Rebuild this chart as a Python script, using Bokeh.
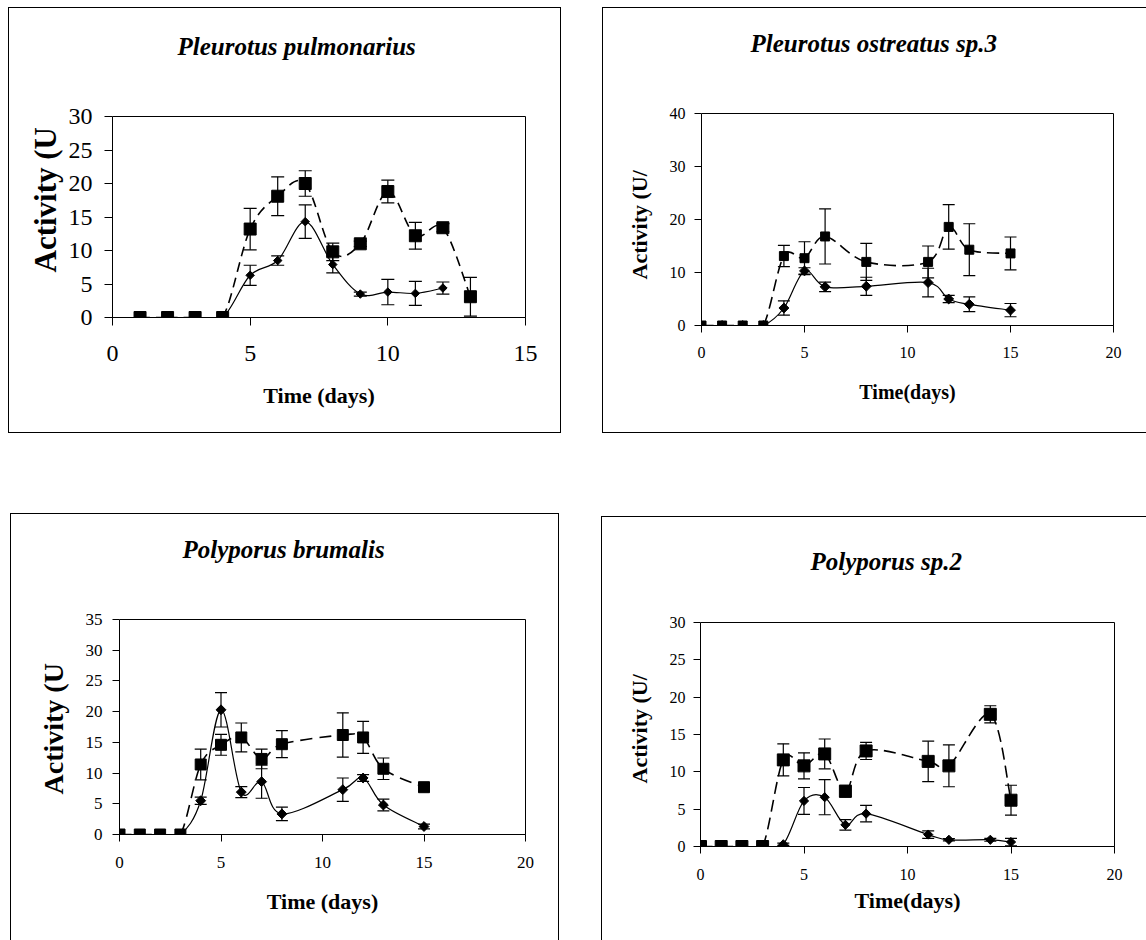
import numpy as np
from bokeh.plotting import figure
from bokeh.models import (Range1d, FixedTicker, Whisker, TeeHead, Title,
                          LinearAxis, ColumnDataSource, Spacer)
from bokeh.layouts import row, column
from bokeh.embed import file_html
from bokeh.resources import INLINE

SERIF = "Liberation Serif"

# ---------------- data ----------------
# Panel 1: Pleurotus pulmonarius
pp_title = "Pleurotus pulmonarius"
pp_dx = [1, 2, 3, 4, 5, 6, 7, 8, 9, 10, 11, 12]
pp_dy = [0, 0, 0, 0, 6.3, 8.5, 14.3, 7.9, 3.5, 3.8, 3.6, 4.4]
pp_de = [0, 0, 0, 0, 1.5, 0.7, 2.5, 1.25, 0.3, 1.9, 1.8, 0.9]
pp_sx = [1, 2, 3, 4, 5, 6, 7, 8, 9, 10, 11, 12, 13]
pp_sy = [0, 0, 0, 0, 13.2, 18.1, 20.0, 9.8, 11.0, 18.8, 12.2, 13.4, 3.1]
pp_se = [0, 0, 0, 0, 3.1, 2.9, 1.9, 1.3, 0.4, 1.7, 2.0, 0.6, 2.9]

# Panel 2: Pleurotus ostreatus sp.3
po_title = "Pleurotus ostreatus sp.3"
po_dx = [0, 1, 2, 3, 4, 5, 6, 8, 11, 12, 13, 15]
po_dy = [0, 0, 0, 0, 3.3, 10.3, 7.3, 7.4, 8.1, 5.0, 4.0, 2.9]
po_de = [0, 0, 0, 0, 1.35, 0.6, 0.9, 1.7, 2.7, 0.7, 1.4, 1.25]
po_sx = [0, 1, 2, 3, 4, 5, 6, 8, 11, 12, 13, 15]
po_sy = [0, 0, 0, 0, 13.1, 12.7, 16.8, 12.0, 12.0, 18.6, 14.3, 13.6]
po_se = [0, 0, 0, 0, 2.0, 3.1, 5.2, 3.5, 3.0, 4.2, 4.9, 3.1]

# Panel 3: Polyporus brumalis
pb_title = "Polyporus brumalis"
pb_dx = [0, 1, 2, 3, 4, 5, 6, 7, 8, 11, 12, 13, 15]
pb_dy = [0, 0, 0, 0, 5.5, 20.3, 6.9, 8.6, 3.35, 7.3, 9.2, 4.8, 1.3]
pb_de = [0, 0, 0, 0, 0.6, 2.8, 0.9, 2.7, 1.1, 1.9, 0.55, 0.95, 0.4]
pb_sx = [0, 1, 2, 3, 4, 5, 6, 7, 8, 11, 12, 13, 15]
pb_sy = [0, 0, 0, 0, 11.4, 14.6, 15.8, 12.3, 14.7, 16.2, 15.8, 10.7, 7.7]
pb_se = [0, 0, 0, 0, 2.5, 1.7, 2.35, 1.6, 2.2, 3.6, 2.6, 1.75, 0.6]

# Panel 4: Polyporus sp.2
ps_title = "Polyporus sp.2"
ps_dx = [0, 1, 2, 3, 4, 5, 6, 7, 8, 11, 12, 14, 15]
ps_dy = [0, 0, 0, 0, 0.3, 6.1, 6.6, 2.9, 4.4, 1.6, 0.9, 0.9, 0.6]
ps_de = [0, 0, 0, 0, 0.15, 1.8, 2.35, 0.7, 1.1, 0.5, 0.15, 0.2, 0.5]
ps_sx = [0, 1, 2, 3, 4, 5, 6, 7, 8, 11, 12, 14, 15]
ps_sy = [0, 0, 0, 0, 11.6, 10.8, 12.4, 7.4, 12.8, 11.4, 10.8, 17.7, 6.2]
ps_se = [0, 0, 0, 0, 2.15, 1.75, 2.0, 0.8, 1.15, 2.7, 2.8, 1.15, 2.0]

# axis texts
y_labels = ["Activity (U", "Activity (U/", "Activity (U", "Activity (U/"]
x_labels = ["Time (days)", "Time(days)", "Time (days)", "Time(days)"]


# ---------------- helpers ----------------
def smooth(p, xs, ys, **kw):
    """Excel-like smoothed line drawn with Bokeh's own Bezier glyph."""
    xs = np.asarray(xs, float)
    ys = np.asarray(ys, float)
    n = len(xs)
    d = {k: [] for k in ("x0", "y0", "x1", "y1", "cx0", "cy0", "cx1", "cy1")}
    for i in range(n - 1):
        xp, yp = (xs[i - 1], ys[i - 1]) if i > 0 else (xs[i], ys[i])
        xn, yn = (xs[i + 2], ys[i + 2]) if i + 2 < n else (xs[i + 1], ys[i + 1])
        d["x0"].append(xs[i]); d["y0"].append(ys[i])
        d["x1"].append(xs[i + 1]); d["y1"].append(ys[i + 1])
        d["cx0"].append(xs[i] + (xs[i + 1] - xp) / 6.0)
        d["cy0"].append(ys[i] + (ys[i + 1] - yp) / 6.0)
        d["cx1"].append(xs[i + 1] - (xn - xs[i]) / 6.0)
        d["cy1"].append(ys[i + 1] - (yn - ys[i]) / 6.0)
    p.bezier(source=ColumnDataSource(d), x0="x0", y0="y0", x1="x1", y1="y1",
             cx0="cx0", cy0="cy0", cx1="cx1", cy1="cy1", **kw)


def errbars(p, xs, ys, es, cap=12, lw=1.2):
    x = [a for a, e in zip(xs, es) if e > 0]
    up = [b + e for b, e in zip(ys, es) if e > 0]
    lo = [b - e for b, e in zip(ys, es) if e > 0]
    src = ColumnDataSource(dict(x=x, upper=up, lower=lo))
    w = Whisker(source=src, base="x", upper="upper", lower="lower",
                dimension="height", line_color="black", line_width=lw,
                upper_head=TeeHead(size=cap, line_color="black", line_width=lw),
                lower_head=TeeHead(size=cap, line_color="black", line_width=lw))
    p.add_layout(w)


def shadow(edges):
    parts = []
    if "l" in edges:
        parts.append("inset 1px 0 0 0 #000")
    if "t" in edges:
        parts.append("inset 0 1px 0 0 #000")
    if "r" in edges:
        parts.append("inset -1px 0 0 0 #000")
    if "b" in edges:
        parts.append("inset 0 -1px 0 0 #000")
    return ", ".join(parts)


def panel(cfg):
    W, H, L, R, T, B = cfg["geom"]
    p = figure(width=W, height=H, output_backend="svg", toolbar_location=None,
               title=None, frame_align=False,
               x_range=Range1d(0, cfg["xmax"]), y_range=Range1d(0, cfg["ymax"]),
               min_border_left=L, min_border_right=R,
               min_border_top=T, min_border_bottom=B,
               styles={"box-shadow": shadow(cfg["edges"])})
    p.border_fill_color = None
    p.background_fill_color = "white"
    p.outline_line_color = "black"
    p.outline_line_width = 1
    p.xgrid.visible = False
    p.ygrid.visible = False

    p.xaxis.ticker = FixedTicker(ticks=list(range(0, cfg["xmax"] + 1, 5)))
    p.yaxis.ticker = FixedTicker(ticks=list(range(0, cfg["ymax"] + 1, cfg["ystep"])))
    for ax in (p.xaxis, p.yaxis):
        ax.axis_line_color = "black"
        ax.axis_line_width = 1
        ax.major_tick_line_color = "black"
        ax.major_tick_out = cfg["tick"]
        ax.major_tick_in = 0
        ax.minor_tick_line_color = None
        ax.major_label_text_font = SERIF
        ax.major_label_text_font_size = cfg["tick_fs"]
        ax.major_label_text_color = "black"
        ax.axis_label_text_font = SERIF
        ax.axis_label_text_font_style = "bold"
        ax.axis_label_text_color = "black"
    p.xaxis.major_label_standoff = cfg["xstand"]
    p.yaxis.major_label_standoff = cfg["ystand"]
    p.xaxis.axis_label = cfg["xlab"]
    p.xaxis.axis_label_text_font_size = cfg["xlab_fs"]
    p.xaxis.axis_label_standoff = cfg["xlab_stand"]

    # blank axis above the frame: it only reserves room so that the title
    # (stacked outside it) sits higher, as in the original chart
    gap = LinearAxis(ticker=FixedTicker(ticks=[0]), axis_line_color=None,
                     major_tick_line_color="white", minor_tick_line_color=None,
                     major_tick_out=cfg["title_gap"], major_tick_in=0,
                     major_label_text_color=None, major_label_standoff=0)
    p.add_layout(gap, "above")
    p.add_layout(Title(text=cfg["title"], text_font=SERIF,
                       text_font_size=cfg["title_fs"],
                       text_font_style="bold italic", text_color="black",
                       align="left", offset=cfg["title_off"], standoff=10),
                 "above")

    # y-axis title, placed left of the tick labels
    p.add_layout(Title(text=cfg["ylab"], text_font=SERIF,
                       text_font_size=cfg["ylab_fs"], text_font_style="bold",
                       text_color="black", align="left",
                       offset=cfg["ylab_off"], standoff=cfg["ylab_stand"]),
                 "left")

    # error bars
    errbars(p, cfg["dx"], cfg["dy"], cfg["de"], cap=cfg["cap"])
    errbars(p, cfg["sx"], cfg["sy"], cfg["se"], cap=cfg["cap"])

    # lines
    smooth(p, cfg["dx"], cfg["dy"], line_color="black", line_width=1.2)
    smooth(p, cfg["sx"], cfg["sy"], line_color="black", line_width=1.6,
           line_dash=cfg["dash"])

    def diamonds():
        p.scatter(cfg["dx"], cfg["dy"], marker="square", angle=np.pi / 4,
                  size=cfg["dsize"], fill_color="black", line_color="black")

    def squares():
        p.scatter(cfg["sx"], cfg["sy"], marker="square", size=cfg["ssize"],
                  fill_color="black", line_color="black")

    if cfg["squares_top"]:
        diamonds(); squares()
    else:
        squares(); diamonds()
    return p


tl = panel(dict(
    geom=(553, 426, 104, 36, 109, 116), edges="ltrb",
    xmax=15, ymax=30, ystep=5, tick=8, tick_fs="24px", xstand=20, ystand=12,
    dx=pp_dx, dy=pp_dy, de=pp_de, sx=pp_sx, sy=pp_sy, se=pp_se,
    cap=13, dash="10 6", dsize=6, ssize=12, squares_top=True,
    title=pp_title, title_fs="25px", title_off=65, title_gap=52,
    ylab=y_labels[0], ylab_fs="31px", ylab_off=45, ylab_stand=6,
    xlab=x_labels[0], xlab_fs="22px", xlab_stand=19))

tr = panel(dict(
    geom=(544, 426, 99, 33, 106, 108), edges="ltb",
    xmax=20, ymax=40, ystep=10, tick=7, tick_fs="16px", xstand=14, ystand=9,
    dx=po_dx, dy=po_dy, de=po_de, sx=po_sx, sy=po_sy, se=po_se,
    cap=12, dash="12 6", dsize=7, ssize=9, squares_top=False,
    title=po_title, title_fs="25px", title_off=49, title_gap=52,
    ylab=y_labels[1], ylab_fs="22px", ylab_off=46, ylab_stand=30,
    xlab=x_labels[1], xlab_fs="20px", xlab_stand=20))

bl = panel(dict(
    geom=(549, 427, 109, 34, 106, 106), edges="ltr",
    xmax=20, ymax=35, ystep=5, tick=7, tick_fs="17px", xstand=15, ystand=10,
    dx=pb_dx, dy=pb_dy, de=pb_de, sx=pb_sx, sy=pb_sy, se=pb_se,
    cap=12, dash="12 7", dsize=7, ssize=11, squares_top=True,
    title=pb_title, title_fs="25px", title_off=63, title_gap=52,
    ylab=y_labels[2], ylab_fs="28px", ylab_off=40, ylab_stand=28,
    xlab=x_labels[2], xlab_fs="22px", xlab_stand=18))

br = panel(dict(
    geom=(545, 424, 99, 32, 106, 94), edges="lt",
    xmax=20, ymax=30, ystep=5, tick=7, tick_fs="16px", xstand=15, ystand=8,
    dx=ps_dx, dy=ps_dy, de=ps_de, sx=ps_sx, sy=ps_sy, se=ps_se,
    cap=12, dash="12 6", dsize=6.5, ssize=12, squares_top=True,
    title=ps_title, title_fs="25px", title_off=110, title_gap=43,
    ylab=y_labels[3], ylab_fs="22px", ylab_off=63, ylab_stand=30,
    xlab=x_labels[3], xlab_fs="22px", xlab_stand=5))

top_row = row(Spacer(width=8, height=426), tl, Spacer(width=41, height=426), tr)
bottom_row = row(Spacer(width=10, height=427), bl, Spacer(width=42, height=427),
                 column(Spacer(width=545, height=3), br))
page = column(Spacer(width=1146, height=7), top_row,
              Spacer(width=1146, height=80), bottom_row)

open("out.html", "w").write(file_html(page, INLINE))
